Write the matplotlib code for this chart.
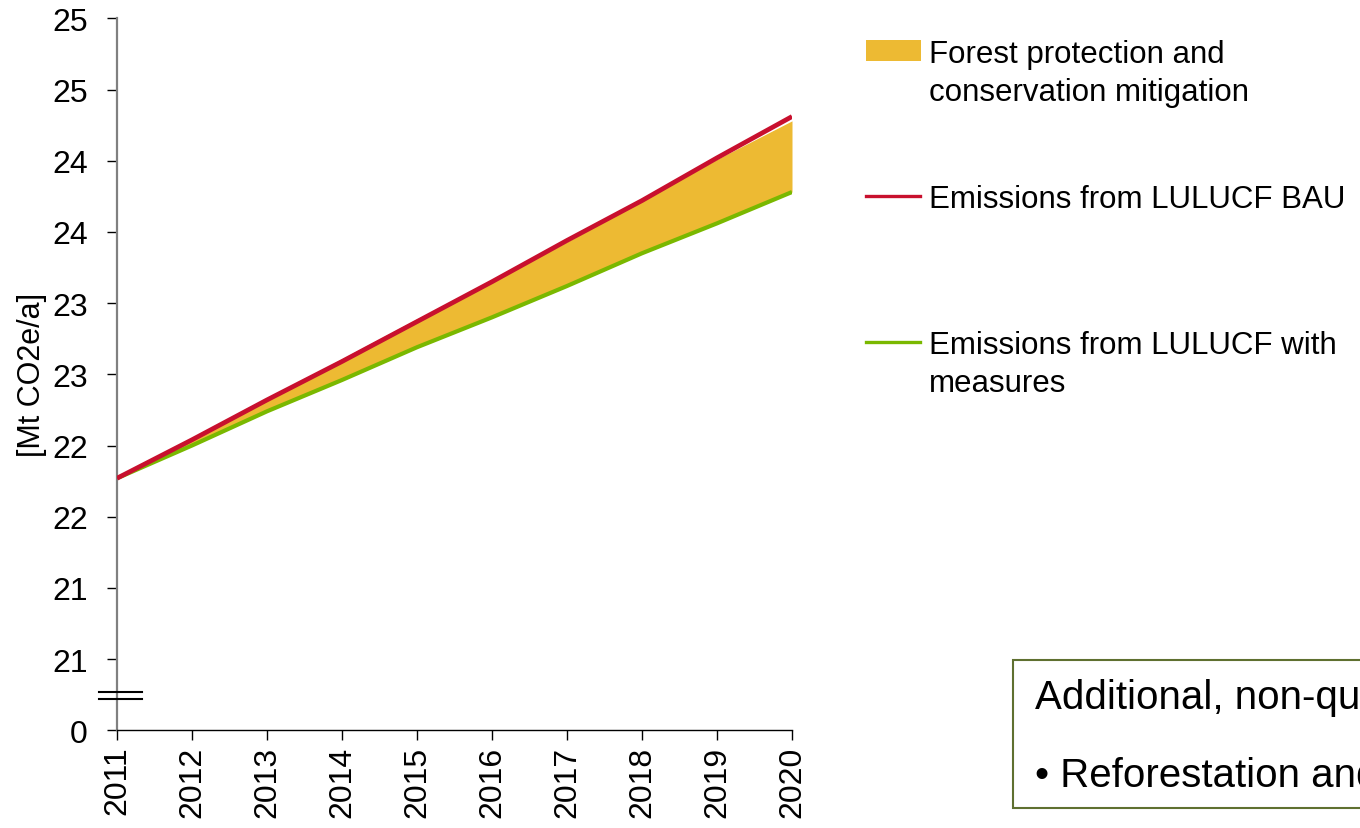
import matplotlib
matplotlib.use("Agg")
import matplotlib.pyplot as plt
from matplotlib.lines import Line2D
from matplotlib.patches import Rectangle

plt.rcParams["font.family"] = ["Liberation Sans", "DejaVu Sans"]

# Emission scenarios, Mt CO2e per year
years = [2011, 2012, 2013, 2014, 2015, 2016, 2017, 2018, 2019, 2020]
with_measures = [21.77, 22.00, 22.24, 22.46, 22.69, 22.90, 23.12, 23.35, 23.56, 23.78]
bau = [21.77, 22.04, 22.32, 22.59, 22.87, 23.15, 23.44, 23.72, 24.02, 24.31]
mitigation = [0.00, 0.04, 0.09, 0.15, 0.20, 0.25, 0.31, 0.37, 0.45, 0.50]

# Broken value axis: lowest tick stands for zero
y_ticks = [20.0, 20.5, 21.0, 21.5, 22.0, 22.5, 23.0, 23.5, 24.0, 24.5, 25.0]
y_tick_labels = ["0", "21", "21", "22", "22", "23", "23", "24", "24", "25", "25"]
x_tick_labels = [str(y) for y in years]

legend_labels = [
    ["Forest protection and", "conservation mitigation"],
    ["Emissions from LULUCF BAU"],
    ["Emissions from LULUCF with", "measures"],
]
box_lines = ["Additional, non-quantified mitigation:",
             "\u2022 Reforestation and afforestation"]

ORANGE = "#EDBA33"
RED = "#C8102E"
GREEN = "#7AB800"

W, H = 1360, 829
fig = plt.figure(figsize=(W / 100, H / 100), dpi=100)
ax = fig.add_axes([117 / W, 1 - 731.3 / H, (792 - 117) / W, (731.3 - 19.3) / H])

top = [g + m for g, m in zip(with_measures, mitigation)]
ax.fill_between(years, with_measures, top, color=ORANGE, linewidth=0, zorder=1)
ax.plot(years, bau, color=RED, lw=3.4, solid_capstyle="butt", zorder=3)
ax.plot(years, with_measures, color=GREEN, lw=3.0, solid_capstyle="butt", zorder=2)

ax.set_xlim(years[0], years[-1])
ax.set_ylim(y_ticks[0], y_ticks[-1])
ax.set_yticks(y_ticks)
ax.set_yticklabels(y_tick_labels)
ax.set_xticks(years)
ax.set_xticklabels(x_tick_labels, rotation=90)
ax.tick_params(axis="y", direction="out", length=7, width=1, pad=14,
               labelsize=23, colors="black")
ax.tick_params(axis="x", direction="out", length=7, width=1, pad=4,
               labelsize=23, colors="black")

for side in ("top", "right"):
    ax.spines[side].set_visible(False)
ax.spines["left"].set_color("#808080")
ax.spines["left"].set_linewidth(1.6)
ax.spines["bottom"].set_color("black")
ax.spines["bottom"].set_linewidth(1.0)

ax.set_ylabel("[Mt CO2e/a]", fontsize=22)
ax.yaxis.set_label_coords(-70 / (792 - 117), 0.5)

# axis break marker
for yb in (693, 700):
    fig.add_artist(Line2D([99 / W, 142 / W], [1 - yb / H, 1 - yb / H],
                          color="black", lw=1.5, zorder=5))

# legend
fs = 22.5
fig.add_artist(Rectangle((866 / W, 1 - 62 / H), 55 / W, 21 / H,
                         facecolor=ORANGE, edgecolor="none"))
fig.add_artist(Line2D([866 / W, 920 / W], [1 - 197 / H] * 2, color=RED, lw=2.4))
fig.add_artist(Line2D([866 / W, 920 / W], [1 - 343 / H] * 2, color=GREEN, lw=2.4))
baselines = [[63, 100.7], [208], [354, 392]]
for lines, bls in zip(legend_labels, baselines):
    for txt, bl in zip(lines, bls):
        fig.text(929 / W, 1 - bl / H, txt, fontsize=fs, va="baseline", ha="left")

# note box on the right, running off the edge
fig.add_artist(Rectangle((1013 / W, 1 - 809 / H), 400 / W, (809 - 661) / H,
                         facecolor="white", edgecolor="#5F7030", lw=1.5))
fig.text(1035 / W, 1 - 698 / H, box_lines[0], fontsize=29, va="center", ha="left")
fig.text(1035 / W, 1 - 776 / H, box_lines[1], fontsize=29, va="center", ha="left")

fig.savefig("out.png", dpi=100)
